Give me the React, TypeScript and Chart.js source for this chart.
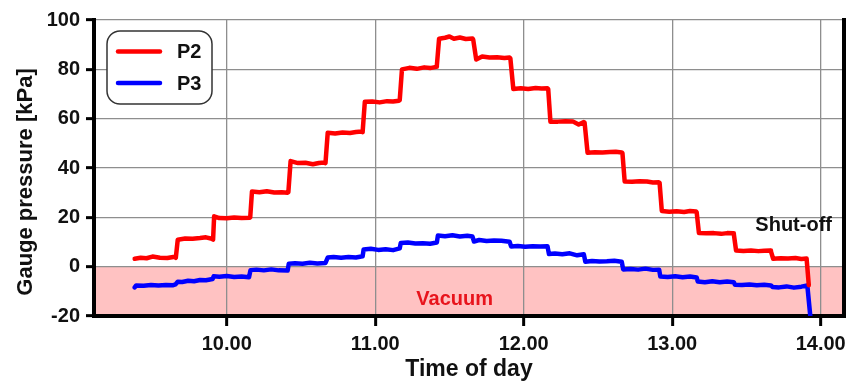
import React, { useEffect, useRef } from "react";
import { Chart, registerables } from "chart.js";

Chart.register(...registerables);

// ---- Data ----
const seriesLabels = ["P2", "P3"];
const seriesColors = ["#ff0000", "#0000ff"];

const p2Time = [
  9.38, 9.42, 9.46, 9.5, 9.55, 9.6, 9.65, 9.657,
  9.67, 9.72, 9.77, 9.82, 9.86, 9.9, 9.908,
  9.915, 9.95, 10.0, 10.05, 10.1, 10.155, 10.158,
  10.17, 10.22, 10.27, 10.32, 10.37, 10.41, 10.415,
  10.43, 10.48, 10.53, 10.58, 10.62, 10.66, 10.665,
  10.68, 10.73, 10.78, 10.83, 10.87, 10.91, 10.915,
  10.93, 10.98, 11.03, 11.08, 11.12, 11.16, 11.165,
  11.18, 11.23, 11.28, 11.33, 11.37, 11.41, 11.415,
  11.43, 11.47, 11.5, 11.53, 11.57, 11.61, 11.655, 11.66,
  11.68, 11.72, 11.77, 11.82, 11.87, 11.905, 11.91,
  11.93, 11.98, 12.03, 12.08, 12.12, 12.16, 12.165,
  12.18, 12.23, 12.28, 12.33, 12.37, 12.405, 12.41,
  12.43, 12.48, 12.53, 12.58, 12.62, 12.66, 12.665,
  12.68, 12.73, 12.78, 12.83, 12.87, 12.91, 12.915,
  12.93, 12.98, 13.03, 13.08, 13.12, 13.16, 13.165,
  13.18, 13.23, 13.28, 13.33, 13.37, 13.41, 13.415,
  13.43, 13.48, 13.53, 13.58, 13.62, 13.66, 13.665,
  13.68, 13.73, 13.78, 13.83, 13.87, 13.905, 13.92,
];
const p2Value = [
  3.2, 3.6, 3.4, 4.1, 3.6, 3.5, 4.0, 3.6,
  10.9, 11.4, 11.3, 11.6, 11.9, 11.3, 11.0,
  20.4, 19.7, 19.6, 19.9, 19.7, 19.8, 20.0,
  30.5, 30.2, 30.6, 30.1, 30.2, 30.0, 30.2,
  42.8, 42.0, 42.1, 41.5, 42.0, 42.2, 42.0,
  54.3, 54.0, 54.4, 54.2, 54.6, 54.8, 54.5,
  66.9, 67.0, 66.6, 67.1, 67.0, 67.3, 67.5,
  80.0, 80.6, 80.2, 80.8, 80.5, 81.0, 81.5,
  92.4, 92.8, 93.3, 92.4, 92.9, 92.3, 92.5, 92.0,
  84.0, 85.2, 84.8, 84.9, 84.6, 84.8, 84.5,
  72.0, 72.3, 72.0, 72.4, 72.2, 72.3, 72.0,
  58.7, 58.8, 59.0, 58.9, 57.6, 58.6, 58.4,
  46.2, 46.4, 46.3, 46.5, 46.6, 46.3, 46.0,
  34.5, 34.4, 34.6, 34.5, 34.1, 34.2, 34.0,
  22.6, 22.3, 22.5, 22.2, 22.6, 22.4, 22.0,
  13.6, 13.5, 13.6, 13.3, 13.6, 13.5, 13.2,
  6.6, 6.4, 6.6, 6.3, 6.5, 6.6, 6.2,
  3.2, 3.4, 3.3, 3.5, 3.1, 3.3, -7.5,
];

const p3Time = [
  9.38, 9.39, 9.44, 9.49, 9.54, 9.59, 9.64, 9.655,
  9.67, 9.7, 9.74, 9.78, 9.82, 9.86, 9.905,
  9.912, 9.95, 10.0, 10.05, 10.1, 10.15,
  10.16, 10.2, 10.25, 10.3, 10.35, 10.41,
  10.418, 10.46, 10.51, 10.56, 10.61, 10.665,
  10.68, 10.72, 10.77, 10.82, 10.87, 10.915,
  10.922, 10.97, 11.02, 11.07, 11.12, 11.165,
  11.172, 11.22, 11.27, 11.32, 11.37, 11.415,
  11.422, 11.47, 11.52, 11.57, 11.62, 11.655,
  11.665, 11.7, 11.75, 11.8, 11.85, 11.905,
  11.915, 11.96, 12.01, 12.06, 12.11, 12.16,
  12.17, 12.21, 12.26, 12.31, 12.36, 12.405,
  12.415, 12.46, 12.51, 12.56, 12.61, 12.66,
  12.67, 12.72, 12.77, 12.82, 12.87, 12.912,
  12.92, 12.97, 13.02, 13.07, 13.12, 13.165,
  13.172, 13.22, 13.27, 13.32, 13.37, 13.415,
  13.422, 13.47, 13.52, 13.57, 13.62, 13.665,
  13.675, 13.72, 13.77, 13.82, 13.87, 13.91, 13.93,
];
const p3Value = [
  -8.4, -7.6, -7.7, -7.4, -7.6, -7.4, -7.5, -7.2,
  -6.1, -6.2, -5.7, -5.9, -5.4, -5.5, -5.0,
  -3.9, -4.1, -3.8, -4.2, -4.0, -4.3,
  -1.4, -1.2, -1.5, -1.1, -1.5, -1.6,
  1.2, 1.4, 1.2, 1.6, 1.3, 1.5,
  3.7, 3.9, 3.6, 3.9, 3.7, 4.2,
  7.0, 7.3, 6.8, 7.1, 6.7, 7.4,
  9.6, 9.8, 9.4, 9.5, 9.3, 9.8,
  12.6, 12.3, 12.7, 12.2, 12.5, 12.2,
  10.2, 10.8, 10.4, 10.6, 10.5, 10.1,
  8.2, 8.4, 8.1, 8.3, 8.2, 8.3,
  5.1, 5.3, 5.0, 5.4, 4.6, 5.0,
  2.0, 2.3, 2.1, 2.2, 2.4, 2.0,
  -1.1, -0.9, -1.2, -0.8, -1.3, -1.2,
  -4.0, -4.2, -3.9, -4.3, -4.0, -4.4,
  -6.0, -6.3, -5.9, -6.3, -6.0, -6.3,
  -7.3, -7.4, -7.2, -7.5, -7.3, -7.6,
  -8.2, -8.4, -8.0, -8.5, -8.1, -7.6, -20,
];

const xMin = 9.106;
const xMax = 14.157;
const yMin = -20;
const yMax = 100;
const yStep = 20;
const xTickValues = [10, 11, 12, 13, 14];
const xTickLabels = ["10.00", "11.00", "12.00", "13.00", "14.00"];

const xTitle = "Time of day";
const yTitle = "Gauge pressure [kPa]";
const vacuumLabel = "Vacuum";
const vacuumAt = { x: 11.535, y: -13.3 };
const shutoffLabel = "Shut-off";
const shutoffAt = { x: 13.818, y: 16.6 };

const FONT = '"Liberation Sans", Arial, Helvetica, sans-serif';

const decorPlugin = {
  id: "decor",
  beforeDraw(chart: any) {
    const { ctx, chartArea: a, scales } = chart;
    const y0 = scales.y.getPixelForValue(0);
    ctx.save();
    ctx.fillStyle = "#ffc2c2";
    ctx.fillRect(a.left, y0, a.right - a.left, a.bottom - y0);
    ctx.restore();
  },
  afterDraw(chart: any) {
    const { ctx, chartArea: a, scales } = chart;
    ctx.save();
    // right frame line
    ctx.strokeStyle = "#000";
    ctx.lineWidth = 4;
    ctx.beginPath();
    ctx.moveTo(a.right, a.top - 2);
    ctx.lineTo(a.right, a.bottom + 2);
    ctx.stroke();

    // annotations
    ctx.font = `bold 20px ${FONT}`;
    ctx.textAlign = "center";
    ctx.textBaseline = "middle";
    ctx.fillStyle = "#e8141c";
    ctx.fillText(
      vacuumLabel,
      scales.x.getPixelForValue(vacuumAt.x),
      scales.y.getPixelForValue(vacuumAt.y)
    );
    ctx.fillStyle = "#111";
    ctx.fillText(
      shutoffLabel,
      scales.x.getPixelForValue(shutoffAt.x),
      scales.y.getPixelForValue(shutoffAt.y)
    );

    // legend box
    const bx = 107, by = 31, bw = 105, bh = 73, r = 13;
    ctx.beginPath();
    ctx.moveTo(bx + r, by);
    ctx.arcTo(bx + bw, by, bx + bw, by + bh, r);
    ctx.arcTo(bx + bw, by + bh, bx, by + bh, r);
    ctx.arcTo(bx, by + bh, bx, by, r);
    ctx.arcTo(bx, by, bx + bw, by, r);
    ctx.closePath();
    ctx.fillStyle = "#fff";
    ctx.fill();
    ctx.strokeStyle = "#333";
    ctx.lineWidth = 1.5;
    ctx.stroke();
    const ds = chart.data.datasets;
    ds.forEach((d: any, i: number) => {
      const ly = 51.5 + i * 31.5;
      ctx.strokeStyle = d.borderColor;
      ctx.lineWidth = 4.5;
      ctx.lineCap = "round";
      ctx.beginPath();
      ctx.moveTo(118, ly);
      ctx.lineTo(160, ly);
      ctx.stroke();
      ctx.fillStyle = "#111";
      ctx.font = `bold 20px ${FONT}`;
      ctx.textAlign = "left";
      ctx.textBaseline = "middle";
      ctx.fillText(d.label, 177, ly + 1);
    });

    // axis titles
    ctx.fillStyle = "#111";
    ctx.font = `bold 23px ${FONT}`;
    ctx.textAlign = "center";
    ctx.textBaseline = "middle";
    ctx.fillText(xTitle, (a.left + a.right) / 2, 370);
    ctx.font = `bold 22px ${FONT}`;
    ctx.translate(26, 182);
    ctx.rotate(-Math.PI / 2);
    ctx.fillText(yTitle, 0, 0);
    ctx.restore();
  },
};

export default function App() {
  const ref = useRef<HTMLCanvasElement | null>(null);
  useEffect(() => {
    if (!ref.current) return;
    const chart = new Chart(ref.current, {
      type: "line",
      data: {
        datasets: [
          {
            label: seriesLabels[0],
            data: p2Time.map((t, i) => ({ x: t, y: p2Value[i] })),
            borderColor: seriesColors[0],
            backgroundColor: seriesColors[0],
            borderWidth: 4.5,
            pointRadius: 0,
            tension: 0,
            borderJoinStyle: "round",
            borderCapStyle: "round",
          },
          {
            label: seriesLabels[1],
            data: p3Time.map((t, i) => ({ x: t, y: p3Value[i] })),
            borderColor: seriesColors[1],
            backgroundColor: seriesColors[1],
            borderWidth: 4.5,
            pointRadius: 0,
            tension: 0,
            borderJoinStyle: "round",
            borderCapStyle: "round",
          },
        ],
      },
      options: {
        animation: false,
        responsive: false,
        devicePixelRatio: 1,
        layout: { padding: { top: 20, right: 15, left: 0, bottom: 0 } },
        plugins: {
          legend: { display: false },
          tooltip: { enabled: false },
        },
        scales: {
          x: {
            type: "linear",
            min: xMin,
            max: xMax,
            afterBuildTicks: (s: any) => {
              s.ticks = xTickValues.map((v) => ({ value: v }));
            },
            afterFit: (s: any) => {
              s.height = 65;
            },
            ticks: {
              callback: (_v: any, i: number) => xTickLabels[i],
              font: { family: FONT, size: 20, weight: "bold" },
              color: "#111",
              padding: 6,
              maxRotation: 0,
            },
            grid: {
              color: "#8e8e8e",
              lineWidth: 1.3,
              tickColor: "#000",
              tickWidth: 3,
              tickLength: 10,
            },
            border: { display: true, color: "#000", width: 4 },
          },
          y: {
            min: yMin,
            max: yMax,
            afterFit: (s: any) => {
              s.width = 94;
            },
            ticks: {
              stepSize: yStep,
              font: { family: FONT, size: 20, weight: "bold" },
              color: "#111",
              padding: 6,
            },
            grid: {
              color: "#8e8e8e",
              lineWidth: 1.3,
              tickColor: "#000",
              tickWidth: 3,
              tickLength: 8,
            },
            border: { display: true, color: "#000", width: 4 },
          },
        },
      } as any,
      plugins: [decorPlugin],
    });
    return () => chart.destroy();
  }, []);
  return (
    <div style={{ position: "fixed", left: 0, top: 0, width: 859, height: 381, background: "#fff" }}>
      <canvas ref={ref} width={859} height={381} />
    </div>
  );
}
